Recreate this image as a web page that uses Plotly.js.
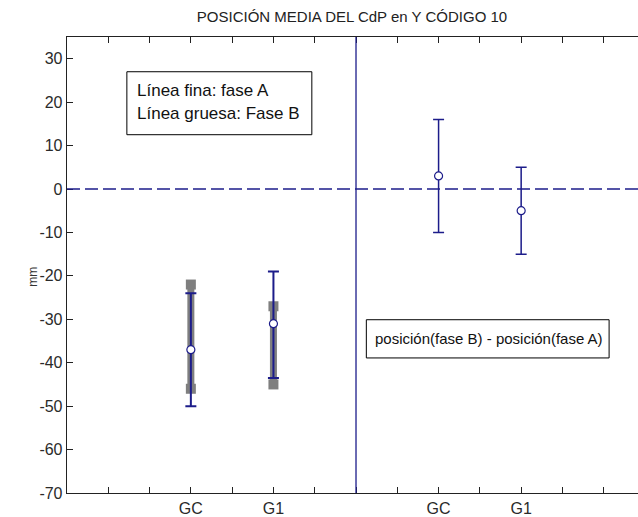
<!DOCTYPE html>
<html>
<head>
<meta charset="utf-8">
<script src="https://cdn.plot.ly/plotly-3.0.1.min.js"></script>
<style>html,body{margin:0;padding:0;overflow:hidden;background:#fff}#chart{width:638px;height:517px}</style>
</head>
<body>
<div id="chart"></div>
<script>
// ---- data ----
const categories = ['GC', 'G1'];
// fase A (thin line): mean with lower / upper limits
const faseA_mean = [-37, -31];
const faseA_low = [-50, -43.5];
const faseA_high = [-24, -19];
// fase B (thick gray line): lower / upper limits
const faseB_low = [-46, -45];
const faseB_high = [-22, -27];
// difference posición(fase B) - posición(fase A)
const diff_mean = [3, -5];
const diff_low = [-10, -15];
const diff_high = [16, 5];
// y tick labels
const yTickVals = [-70, -60, -50, -40, -30, -20, -10, 0, 10, 20, 30];
const yTickText = ['-70', '-60', '-50', '-40', '-30', '-20', '-10', '0', '10', '20', '30'];

const leftPos = [3, 5];
const rightPos = [9, 11];
const navy = '#1c1c8a';
const gray = '#7f7f7f';

const traces = [];
// thick gray bars (fase B)
categories.forEach((c, i) => {
  traces.push({
    x: [leftPos[i], leftPos[i]], y: [faseB_low[i], faseB_high[i]],
    mode: 'lines+markers', type: 'scatter',
    line: {color: gray, width: 7},
    marker: {symbol: 'square', size: 10, color: gray},
    hoverinfo: 'skip', showlegend: false
  });
});
// thin bars (fase A)
traces.push({
  x: leftPos, y: faseA_mean, type: 'scatter', mode: 'markers',
  error_y: {type: 'data', symmetric: false,
    array: faseA_high.map((v, i) => v - faseA_mean[i]),
    arrayminus: faseA_mean.map((v, i) => v - faseA_low[i]),
    color: navy, thickness: 2, width: 5.5},
  marker: {symbol: 'circle', size: 8, color: '#fff', line: {color: navy, width: 1.2}},
  showlegend: false
});
// difference bars
traces.push({
  x: rightPos, y: diff_mean, type: 'scatter', mode: 'markers',
  error_y: {type: 'data', symmetric: false,
    array: diff_high.map((v, i) => v - diff_mean[i]),
    arrayminus: diff_mean.map((v, i) => v - diff_low[i]),
    color: navy, thickness: 1.5, width: 5.5},
  marker: {symbol: 'circle', size: 8, color: '#fff', line: {color: navy, width: 1.2}},
  showlegend: false
});

const tickvals = [];
const ticktext = [];
for (let k = 1; k <= 13; k++) {
  tickvals.push(k);
  let li = leftPos.indexOf(k), ri = rightPos.indexOf(k);
  ticktext.push(li >= 0 ? categories[li] : (ri >= 0 ? categories[ri] : ''));
}

const fam = 'Liberation Sans, Arial, sans-serif';
const tickFont = {family: fam, size: 16, color: '#2a2a2a'};

const layout = {
  width: 638, height: 517,
  margin: {l: 67, r: 0, t: 37, b: 24},
  paper_bgcolor: '#fff', plot_bgcolor: '#fff',
  font: tickFont,
  title: {text: 'POSICIÓN MEDIA DEL CdP en Y CÓDIGO 10', x: 352 / 638, xref: 'container', xanchor: 'center',
          y: 1 - 17 / 517, yref: 'container', yanchor: 'middle', font: {family: fam, size: 15, color: '#222'}},
  xaxis: {range: [0, 13.83], tickvals: tickvals, ticktext: ticktext, ticks: 'inside', ticklen: 6,
          tickcolor: '#222', showline: true, linecolor: '#222', linewidth: 1.3, mirror: 'ticks',
          showgrid: false, zeroline: false, tickfont: tickFont, fixedrange: true},
  yaxis: {range: [-70, 35], tickvals: yTickVals, ticktext: yTickText, ticks: 'inside', ticklen: 6,
          tickcolor: '#222', showline: true, linecolor: '#222', linewidth: 1.3, mirror: false,
          showgrid: false, zeroline: false, tickfont: tickFont},
  shapes: [
    {type: 'line', xref: 'paper', x0: 0, x1: 1, yref: 'y', y0: 0, y1: 0, line: {color: navy, width: 1.5, dash: '13px,5px'}},
    {type: 'line', xref: 'x', x0: 7, x1: 7, yref: 'paper', y0: 0, y1: 1, line: {color: navy, width: 1.3}},
    {type: 'rect', xref: 'x', yref: 'y', x0: 1.45, x1: 5.93, y0: 12.5, y1: 27.0, line: {color: '#000', width: 1}, fillcolor: 'rgba(0,0,0,0)'},
    {type: 'rect', xref: 'x', yref: 'y', x0: 7.25, x1: 13.13, y0: -38.9, y1: -30.1, line: {color: '#000', width: 1}, fillcolor: 'rgba(0,0,0,0)'}
  ],
  annotations: [
    {x: 1.65, y: 22.7, xref: 'x', yref: 'y', xanchor: 'left', yanchor: 'middle', showarrow: false, text: 'Línea fina: fase A', font: {family: fam, size: 17, color: '#111'}},
    {x: 1.65, y: 17.4, xref: 'x', yref: 'y', xanchor: 'left', yanchor: 'middle', showarrow: false, text: 'Línea gruesa: Fase B', font: {family: fam, size: 17, color: '#111'}},
    {x: 7.42, y: -34.5, xref: 'x', yref: 'y', xanchor: 'left', yanchor: 'middle', showarrow: false, text: 'posición(fase B) - posición(fase A)', font: {family: fam, size: 15, color: '#111'}},
    {x: 0, xref: 'paper', xshift: -34, xanchor: 'center', y: 0.474, yref: 'paper', yanchor: 'middle', textangle: -90, showarrow: false, text: 'mm', font: {family: fam, size: 12, color: '#333'}}
  ]
};

Plotly.newPlot('chart', traces, layout, {displayModeBar: false, staticPlot: true});
</script>
</body>
</html>
